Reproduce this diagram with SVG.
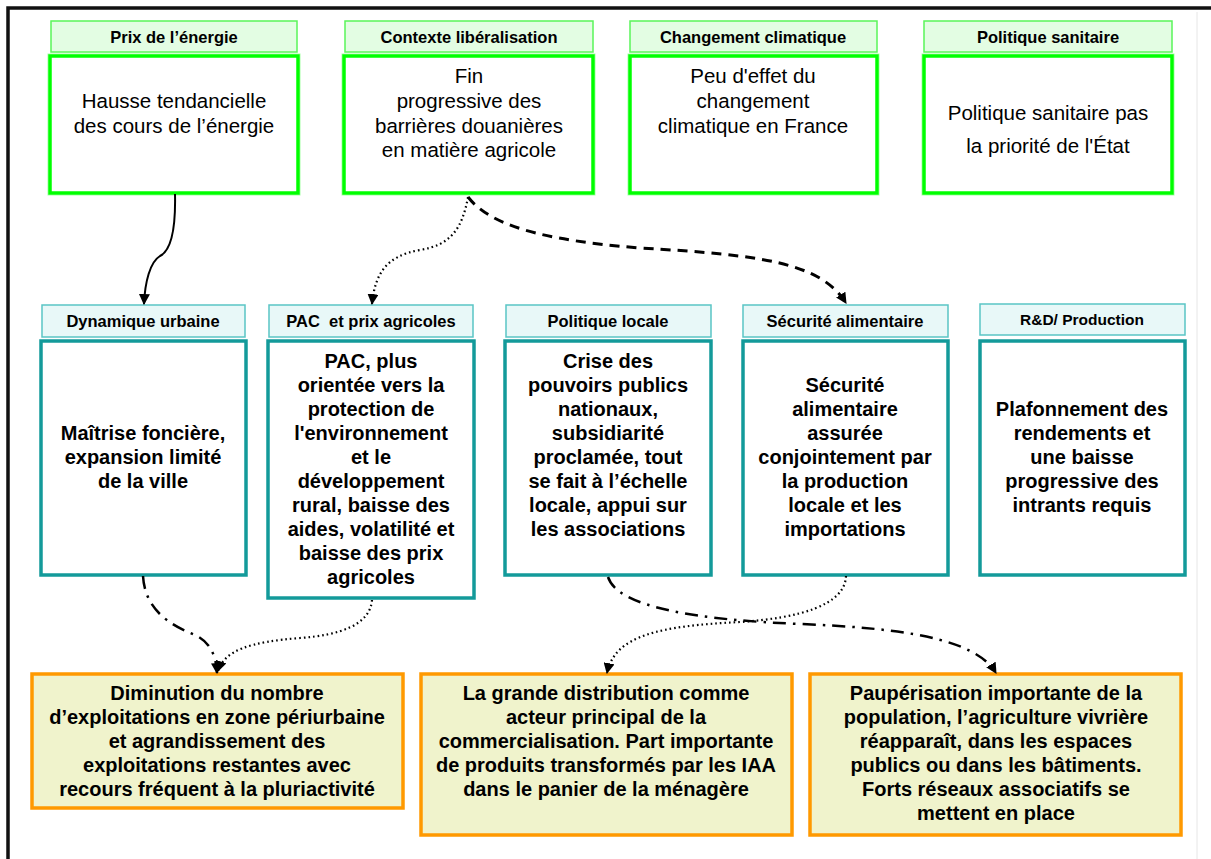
<svg xmlns="http://www.w3.org/2000/svg" width="1211" height="859" viewBox="0 0 1211 859">
<style>
.frame{fill:none;stroke:#111;stroke-width:3.5}
.hg{fill:#e3fde3;stroke:#5af55a;stroke-width:1.5}
.bg{fill:#fff;stroke:#00ff00;stroke-width:3.5}
.bgh{fill:none;stroke:#a8ffa8;stroke-width:1}
.hc{fill:#e8f8f8;stroke:#5ac5c5;stroke-width:1.5}
.bc{fill:#fff;stroke:#139a9a;stroke-width:3.5}
.bo{fill:#f0f3cc;stroke:#ff9900;stroke-width:3.5}
text{font-family:"Liberation Sans",Arial,sans-serif;fill:#000;text-anchor:middle}
.ht{font-size:16.5px;font-weight:bold}
.tt{font-size:20.5px}
.mt{font-size:20px;font-weight:bold}
.c{fill:none;stroke:#000}
.solid{stroke-width:2}
.dash{stroke-width:3;stroke-dasharray:10 7}
.dot{stroke-width:2.2;stroke-dasharray:1.6 3}
.dd{stroke-width:2.5;stroke-dasharray:13 7 2.5 7}
</style>
<defs>
<marker id="ah" viewBox="0 0 10 10" refX="9" refY="5" markerWidth="11" markerHeight="11" markerUnits="userSpaceOnUse" orient="auto">
<path d="M0,0 L10,5 L0,10 z" fill="#000"/>
</marker>
</defs>
<rect class="frame" x="8" y="8" width="1230" height="880"/>
<line x1="1197" y1="12" x2="1197" y2="859" stroke="#e6e6e6" stroke-width="1"/>

<g id="n-prix-energie">
<rect class="hg" x="51" y="21" width="246" height="31"/>
<text class="ht" x="174" y="43">Prix de l’énergie</text>
<rect class="bgh" x="48" y="54" width="252" height="141"/>
<rect class="bg" x="50" y="56" width="248" height="137"/>
<text class="tt" x="174" y="108">Hausse tendancielle</text>
<text class="tt" x="174" y="133">des cours de l’énergie</text>
</g>

<g id="n-liberalisation">
<rect class="hg" x="345" y="21" width="248" height="31"/>
<text class="ht" x="469" y="43">Contexte libéralisation</text>
<rect class="bgh" x="342" y="54" width="253" height="141"/>
<rect class="bg" x="344" y="56" width="249" height="137"/>
<text class="tt" x="469" y="83">Fin</text>
<text class="tt" x="469" y="108">progressive des</text>
<text class="tt" x="469" y="133">barrières douanières</text>
<text class="tt" x="469" y="157">en matière agricole</text>
</g>

<g id="n-climat">
<rect class="hg" x="630" y="21" width="247" height="31"/>
<text class="ht" x="753" y="43">Changement climatique</text>
<rect class="bgh" x="628" y="54" width="251" height="141"/>
<rect class="bg" x="630" y="56" width="247" height="137"/>
<text class="tt" x="753" y="83">Peu d'effet du</text>
<text class="tt" x="753" y="108">changement</text>
<text class="tt" x="753" y="133">climatique en France</text>
</g>

<g id="n-sanitaire">
<rect class="hg" x="924" y="21" width="248" height="31"/>
<text class="ht" x="1048" y="43">Politique sanitaire</text>
<rect class="bgh" x="922" y="54" width="252" height="141"/>
<rect class="bg" x="924" y="56" width="248" height="137"/>
<text class="tt" x="1048" y="120">Politique sanitaire pas</text>
<text class="tt" x="1048" y="153">la priorité de l'État</text>
</g>

<g id="n-urbaine">
<rect class="hc" x="42" y="305" width="203" height="32"/>
<text class="ht" x="143" y="327">Dynamique urbaine</text>
<rect class="bc" x="41" y="341" width="205" height="234"/>
<text class="mt" x="143" y="440">Maîtrise foncière,</text>
<text class="mt" x="143" y="464">expansion limité</text>
<text class="mt" x="143" y="488">de la ville</text>
</g>

<g id="n-pac">
<rect class="hc" x="269" y="305" width="204" height="32"/>
<text class="ht" x="371" y="327">PAC&#160; et prix agricoles</text>
<rect class="bc" x="268" y="341" width="206" height="257"/>
<text class="mt" x="371" y="368">PAC, plus</text>
<text class="mt" x="371" y="392">orientée vers la</text>
<text class="mt" x="371" y="416">protection de</text>
<text class="mt" x="371" y="440">l'environnement</text>
<text class="mt" x="371" y="464">et le</text>
<text class="mt" x="371" y="488">développement</text>
<text class="mt" x="371" y="512">rural, baisse des</text>
<text class="mt" x="371" y="536">aides, volatilité et</text>
<text class="mt" x="371" y="560">baisse des prix</text>
<text class="mt" x="371" y="584">agricoles</text>
</g>

<g id="n-locale">
<rect class="hc" x="506" y="305" width="205" height="32"/>
<text class="ht" x="608" y="327">Politique locale</text>
<rect class="bc" x="505" y="341" width="206" height="234"/>
<text class="mt" x="608" y="368">Crise des</text>
<text class="mt" x="608" y="392">pouvoirs publics</text>
<text class="mt" x="608" y="416">nationaux,</text>
<text class="mt" x="608" y="440">subsidiarité</text>
<text class="mt" x="608" y="464">proclamée, tout</text>
<text class="mt" x="608" y="488">se fait à l’échelle</text>
<text class="mt" x="608" y="512">locale, appui sur</text>
<text class="mt" x="608" y="536">les associations</text>
</g>

<g id="n-securite">
<rect class="hc" x="743" y="305" width="205" height="32"/>
<text class="ht" x="845" y="327">Sécurité alimentaire</text>
<rect class="bc" x="743" y="341" width="205" height="234"/>
<text class="mt" x="845" y="392">Sécurité</text>
<text class="mt" x="845" y="416">alimentaire</text>
<text class="mt" x="845" y="440">assurée</text>
<text class="mt" x="845" y="464">conjointement par</text>
<text class="mt" x="845" y="488">la production</text>
<text class="mt" x="845" y="512">locale et les</text>
<text class="mt" x="845" y="536">importations</text>
</g>

<g id="n-rd">
<rect class="hc" x="980" y="304" width="205" height="31"/>
<text class="ht" x="1082" y="325" style="font-size:15.5px">R&amp;D/ Production</text>
<rect class="bc" x="980" y="341" width="205" height="234"/>
<text class="mt" x="1082" y="416">Plafonnement des</text>
<text class="mt" x="1082" y="440">rendements et</text>
<text class="mt" x="1082" y="464">une baisse</text>
<text class="mt" x="1082" y="488">progressive des</text>
<text class="mt" x="1082" y="512">intrants requis</text>
</g>

<g id="n-exploitations">
<rect class="bo" x="32" y="674" width="371" height="134"/>
<text class="mt" x="217" y="700">Diminution du nombre</text>
<text class="mt" x="217" y="724">d’exploitations en zone périurbaine</text>
<text class="mt" x="217" y="748">et agrandissement des</text>
<text class="mt" x="217" y="772">exploitations restantes avec</text>
<text class="mt" x="217" y="796">recours fréquent à la pluriactivité</text>
</g>

<g id="n-distribution">
<rect class="bo" x="421" y="674" width="371" height="161"/>
<text class="mt" x="606" y="700">La grande distribution comme</text>
<text class="mt" x="606" y="724">acteur principal de la</text>
<text class="mt" x="606" y="748">commercialisation. Part importante</text>
<text class="mt" x="606" y="772">de produits transformés par les IAA</text>
<text class="mt" x="606" y="796">dans le panier de la ménagère</text>
</g>

<g id="n-pauperisation">
<rect class="bo" x="810" y="674" width="371" height="161"/>
<text class="mt" x="996" y="700">Paupérisation importante de la</text>
<text class="mt" x="996" y="724">population, l’agriculture vivrière</text>
<text class="mt" x="996" y="748">réapparaît, dans les espaces</text>
<text class="mt" x="996" y="772">publics ou dans les bâtiments.</text>
<text class="mt" x="996" y="796">Forts réseaux associatifs se</text>
<text class="mt" x="996" y="820">mettent en place</text>
</g>

<g id="connectors">
<path class="c solid" marker-end="url(#ah)" d="M175,194 C176,238 168,252 160,256 C150,262 145,282 144,304"/>
<path class="c dot" marker-end="url(#ah)" d="M468,197 C462,230 450,245 420,250 C385,256 375,275 372,304"/>
<path class="c dash" marker-end="url(#ah)" d="M468,197 C490,225 540,240 640,248 C760,255 820,262 846,303"/>
<path class="c dd" marker-end="url(#ah)" d="M143,576 C145,610 170,625 195,635 C210,642 216,655 217,673"/>
<path class="c dot" marker-end="url(#ah)" d="M372,600 C370,625 340,635 300,638 C250,642 225,650 218,671"/>
<path class="c dd" marker-end="url(#ah)" d="M608,577 C618,608 700,620 800,624 C900,628 975,638 996,673"/>
<path class="c dot" marker-end="url(#ah)" d="M846,576 C845,605 800,618 740,622 C660,626 615,635 607,673"/>
</g>
</svg>
